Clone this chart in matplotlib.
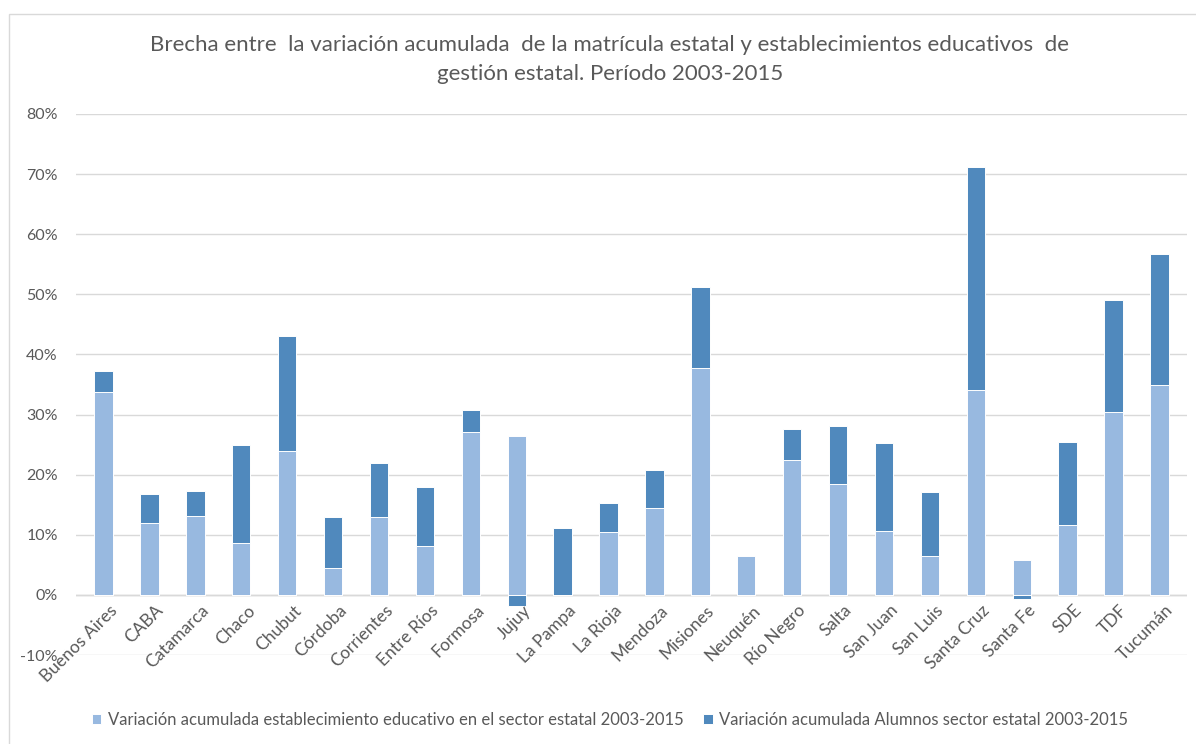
import numpy as np
import matplotlib
matplotlib.use("Agg")
import matplotlib.pyplot as plt
from matplotlib.patches import Rectangle
from matplotlib.ticker import FuncFormatter

plt.rcParams['font.family'] = ['Lato', 'DejaVu Sans']

provincias = ["Buenos Aires", "CABA", "Catamarca", "Chaco", "Chubut", "Córdoba",
              "Corrientes", "Entre Ríos", "Formosa", "Jujuy", "La Pampa", "La Rioja",
              "Mendoza", "Misiones", "Neuquén", "Río Negro", "Salta", "San Juan",
              "San Luis", "Santa Cruz", "Santa Fe", "SDE", "TDF", "Tucumán"]

# variacion acumulada (%)
establecimientos = [33.8, 12.0, 13.2, 8.7, 24.0, 4.5, 13.0, 8.1, 27.1, 26.4, 0.0, 10.4,
                    14.5, 37.7, 6.5, 22.4, 18.4, 10.7, 6.5, 34.1, 5.75, 11.7, 30.5, 34.9]
alumnos = [37.3, 16.8, 17.3, 25.0, 43.0, 13.0, 21.9, 17.9, 30.7, -1.9, 11.1, 15.3,
           20.7, 51.3, 0.0, 27.6, 28.1, 25.3, 17.1, 71.1, -0.6, 25.5, 49.0, 56.7]

lbl_est = "Variación acumulada establecimiento educativo en el sector estatal 2003-2015"
lbl_alu = "Variación acumulada Alumnos sector estatal 2003-2015"

c_light = "#98B9E0"
c_dark = "#5089BD"
gris = "#595959"

fig = plt.figure(figsize=(11.96, 7.44), dpi=100)
ax = fig.add_axes([0.0635, 0.1196, 0.929, 0.7272])

x = np.arange(len(provincias))
w = 0.4
ax.bar(x, np.array(alumnos) / 100, w, color=c_dark, edgecolor="white", linewidth=0.7,
       label=lbl_alu, zorder=2)
ax.bar(x, np.array(establecimientos) / 100, w, color=c_light, edgecolor="white", linewidth=0.7,
       label=lbl_est, zorder=3)

ax.set_ylim(-0.1, 0.8)
ax.set_xlim(-0.6, len(provincias) - 0.4)
ax.set_yticks(np.arange(-0.1, 0.81, 0.1))
ax.yaxis.set_major_formatter(FuncFormatter(lambda v, p: "{:.0f}%".format(v * 100)))
ax.grid(axis="y", color="#d9d9d9", linewidth=1.0, zorder=0)
ax.axhline(0, color="#d0d0d0", linewidth=1.0, zorder=1)
for s in ax.spines.values():
    s.set_visible(False)
ax.tick_params(axis="y", length=0, pad=13, labelsize=11.5, labelcolor=gris)
ax.tick_params(axis="x", length=0)
ax.set_xticks([])

# etiquetas de categoria pegadas al eje en 0
for xi, nombre in zip(x, provincias):
    ax.text(xi + 0.12, -0.012, nombre, rotation=45, ha="right", va="top",
            rotation_mode="anchor", fontsize=12.5, color=gris, zorder=4)

fig.text(0.51, 0.94, "Brecha entre  la variación acumulada  de la matrícula estatal y establecimientos educativos  de",
         ha="center", va="center", fontsize=16, color=gris)
fig.text(0.51, 0.9, "gestión estatal. Período 2003-2015",
         ha="center", va="center", fontsize=16, color=gris)

h, l = ax.get_legend_handles_labels()
fig.legend(h[::-1], l[::-1], loc="center", bbox_to_anchor=(0.51, 0.032), ncol=2, frameon=False,
           fontsize=12, labelcolor=gris, handlelength=0.55, handleheight=0.55,
           handletextpad=0.4, columnspacing=1.2)

fig.patches.append(Rectangle((9 / 1196, -0.1), 1.2, 1.1 - 14 / 744, transform=fig.transFigure,
                             fill=False, edgecolor="#d9d9d9", linewidth=1.0))

fig.savefig("out.png", dpi=100)
